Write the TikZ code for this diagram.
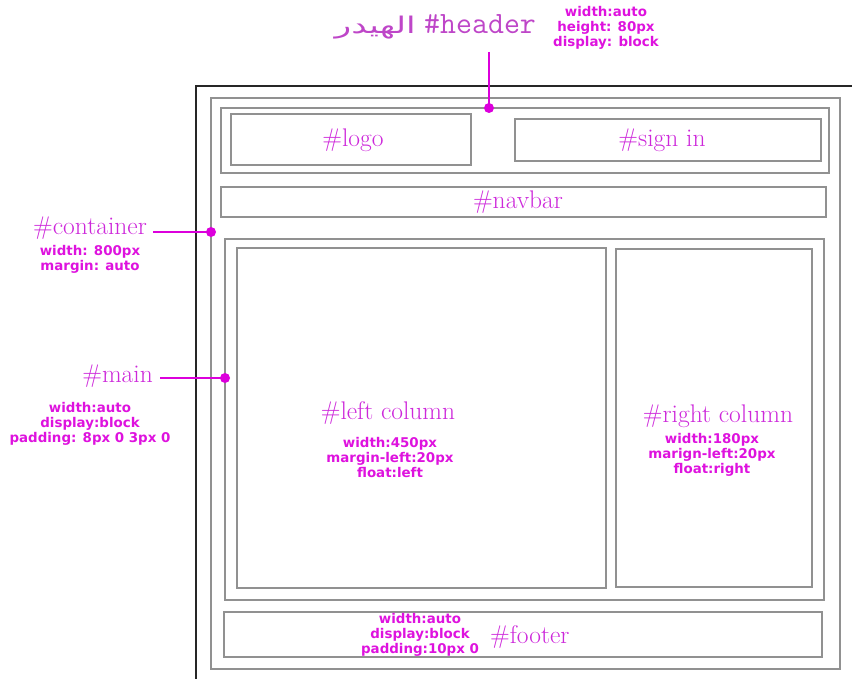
\documentclass[tikz,border=0pt]{standalone}
\usepackage{fontspec}
\usepackage{graphicx}
\newfontfamily\propfont{DejaVu Sans}
\newfontfamily\arabicfont[Script=Arabic]{DejaVu Sans}
\TeXXeTstate=1
\definecolor{boxgray}{RGB}{145,145,145}
\definecolor{propmag}{RGB}{222,18,222}
\definecolor{titlemag}{RGB}{205,40,218}
\definecolor{headmag}{RGB}{190,70,200}
\definecolor{pinmag}{RGB}{220,0,220}
\begin{document}
\begin{tikzpicture}[x=1pt,y=-1pt,
  box/.style={draw=boxgray,line width=1.3pt,inner sep=0pt,outer sep=0pt},
  props/.style={text=propmag,align=center,inner sep=0pt,font=\propfont\bfseries\fontsize{13.4}{15}\selectfont},
  title/.style={text=titlemag,inner sep=0pt,font=\fontsize{25.5}{28}\selectfont},
  pin/.style={draw=pinmag,line width=1.2pt},
  pindot/.style={fill=pinmag,circle,inner sep=0pt,minimum size=10pt}]
\useasboundingbox (0,0) rectangle (852,679);
% outer frame
\coordinate (ftr) at (852,86);
\coordinate (ftl) at (196,86);
\coordinate (fbl) at (196,679);
\draw[black!85,line width=1.3pt] (ftr) -- (ftl) -- (fbl);
% boxes
\node[box,minimum width=629pt,minimum height=571pt] (container) at (525.5,383.5) {};
\node[box,minimum width=608pt,minimum height=65pt] (header) at (525,140.5) {};
\node[box,minimum width=240pt,minimum height=51pt] (logo) at (351,139.5) {};
\node[box,minimum width=306pt,minimum height=42pt] (signin) at (668,140) {};
\node[box,minimum width=605pt,minimum height=30pt] (navbar) at (523.5,202) {};
\node[box,minimum width=599pt,minimum height=361pt] (main) at (524.5,419.5) {};
\node[box,minimum width=369pt,minimum height=340pt] (leftcol) at (421.5,418) {};
\node[box,minimum width=196pt,minimum height=338pt] (rightcol) at (714,418) {};
\node[box,minimum width=598pt,minimum height=45pt] (footer) at (523,634.5) {};
% box titles
\node[title,anchor=base] (logot) at (353,147) {\#logo};
\node[title,anchor=base] (signint) at (662,147) {\#sign in};
\node[title,anchor=base] (navbart) at (518,209) {\#navbar};
\node[title,anchor=base] (leftt) at (388,419) {\#left column};
\node[title,anchor=base] (rightt) at (718,422) {\#right column};
\node[title,anchor=base west] (footert) at (490,643) {\#footer};
% props
\node[props] (leftp) at (390,458) {width:450px\\margin-left:20px\\float:left};
\node[props] (rightp) at (712,455) {width:180px\\marign-left:20px\\float:right};
\node[props] (footerp) at (420,635) {width:auto\\display:block\\padding:10px 0};
\node[props] (headerp) at (606,28) {width:auto\\height: 80px\\display: block};
\node[props] (containerp) at (90,259.5) {width: 800px\\margin: auto};
\node[props] (mainp) at (90,424) {width:auto\\display:block\\padding: 8px 0 3px 0};
% outside titles
\node[text=headmag,inner sep=0pt,anchor=base west,font=\ttfamily\fontsize{31}{34}\selectfont] (headert) at (424,34) {\#header};
\node[text=headmag,inner sep=0pt,anchor=base east,font=\arabicfont\fontsize{23}{26}\selectfont] (headerar) at (416,34) {\scalebox{1.5}[1]{\beginR الهيدر\endR}};
\node[title,anchor=base east] (containert) at (147,235) {\#container};
\node[title,anchor=base east] (maint) at (153,382) {\#main};
% pins
\coordinate (hdot) at (489,108);
\coordinate (htop) at (489,52);
\coordinate (cdot) at (211,232);
\coordinate (cstart) at (153,232);
\coordinate (mdot) at (225,378);
\coordinate (mstart) at (160,378);
\draw[pin] (htop) -- (hdot);
\draw[pin] (cstart) -- (cdot);
\draw[pin] (mstart) -- (mdot);
\node[pindot] (hd) at (hdot) {};
\node[pindot] (cd) at (cdot) {};
\node[pindot] (md) at (mdot) {};
\end{tikzpicture}
\end{document}
